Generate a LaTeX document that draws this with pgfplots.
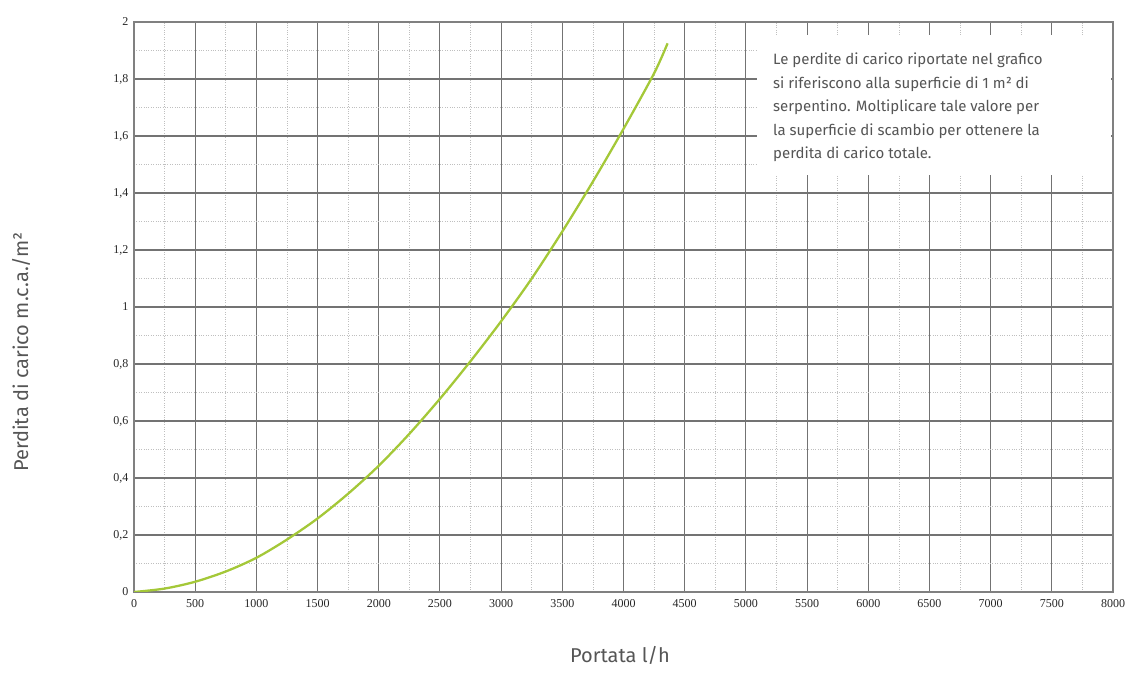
\documentclass[border=0pt]{standalone}
\usepackage{pgfplots}
\pgfplotsset{compat=1.18}
\usepackage{fontspec}
\setmainfont{Fira Sans}
\newfontfamily\tickfont{Liberation Serif}
\definecolor{curva}{RGB}{164,200,56}
\definecolor{testo}{RGB}{85,85,85}
\begin{document}
\begin{tikzpicture}[x=1bp,y=1bp]
\useasboundingbox (0,0) rectangle (1132,680);
\begin{axis}[
  at={(134bp,88bp)}, anchor=south west,
  scale only axis, width=979bp, height=570bp,
  xmin=0, xmax=8000, ymin=0, ymax=2,
  xtick distance=500, ytick distance=0.2,
  minor x tick num=1, minor y tick num=1,
  grid=both,
  major grid style={black!55, line width=1.1pt},
  minor grid style={black!25, dotted, line width=0.7pt},
  major tick length=0pt, minor tick length=0pt,
  axis line style={black!50, line width=1.1pt},
  ticklabel style={font=\tickfont\fontsize{12bp}{12bp}\selectfont, text=black!85},
  /pgf/number format/assume math mode=true,
  /pgf/number format/use comma,
  /pgf/number format/1000 sep={},
  xticklabel style={yshift=-4bp},
  yticklabel style={xshift=-2bp},
]
% perdita di carico per 1 m2 di serpentino
\addplot[curva, line width=2.3pt, smooth] coordinates {
  (0,0) (250,0.012) (500,0.036) (750,0.072) (1000,0.12)
  (1250,0.184) (1500,0.258) (1750,0.345) (2000,0.443)
  (2250,0.555) (2500,0.678) (2750,0.81) (3000,0.95)
  (3250,1.10) (3500,1.265) (3750,1.44) (4000,1.625)
  (4250,1.82) (4360,1.925)
};
\end{axis}
\fill[white] (757,505) rectangle (1111,645);
\node[anchor=north west, inner sep=0pt, align=left, text=testo,
      font=\fontsize{15bp}{23.5bp}\selectfont] at (773,627)
  {Le perdite di carico riportate nel grafico\\
   si riferiscono alla superficie di 1 m² di\\
   serpentino. Moltiplicare tale valore per\\
   la superficie di scambio per ottenere la\\
   perdita di carico totale.};
\node[rotate=90, text=testo, font=\fontsize{20bp}{20bp}\selectfont] at (21,328)
  {Perdita di carico m.c.a./m²};
\node[text=testo, font=\fontsize{20bp}{20bp}\selectfont] at (620,25) {Portata l/h};
\end{tikzpicture}
\end{document}
